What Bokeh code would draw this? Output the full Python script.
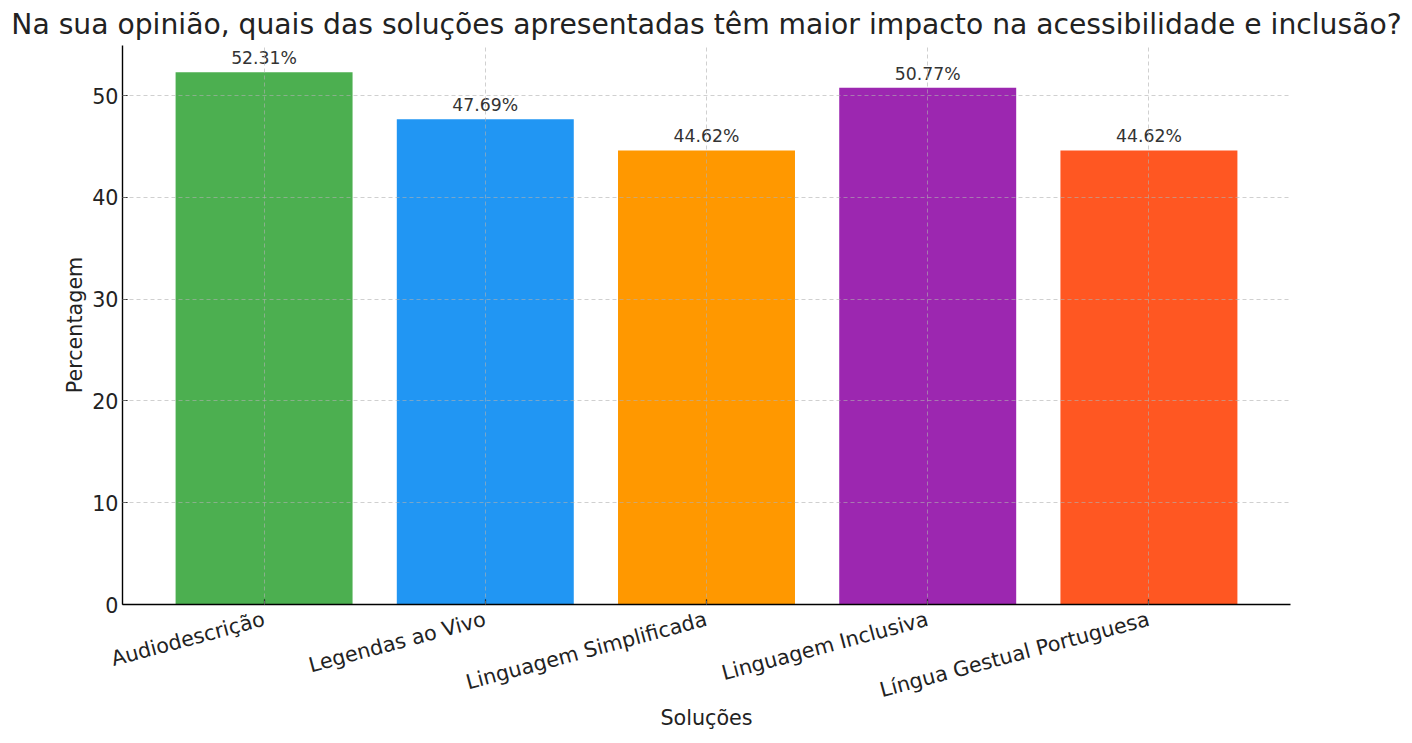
import math
from bokeh.plotting import figure
from bokeh.models import ColumnDataSource, Range1d, FixedTicker
from bokeh.embed import file_html
from bokeh.resources import INLINE
from bokeh.core.properties import value

# ---- data ----
categories = ["Audiodescrição", "Legendas ao Vivo", "Linguagem Simplificada",
              "Linguagem Inclusiva", "Língua Gestual Portuguesa"]
percentages = [52.31, 47.69, 44.62, 50.77, 44.62]
colors = ["#4CAF50", "#2196F3", "#FF9800", "#9C27B0", "#FF5722"]
y_ticks = [0, 10, 20, 30, 40, 50]
title_text = "Na sua opinião, quais das soluções apresentadas têm maior impacto na acessibilidade e inclusão?"
x_label = "Soluções"
y_label = "Percentagem"

x_pos = list(range(len(categories)))
value_labels = [f"{v:.2f}%" for v in percentages]
src = ColumnDataSource(dict(x=x_pos, top=percentages, color=colors, label=value_labels))

FONT = "DejaVu Sans"

p = figure(width=1410, height=741, output_backend="svg", toolbar_location=None,
           x_range=Range1d(-0.64, 4.64), y_range=Range1d(0, 54.93),
           min_border_left=122, min_border_right=120, min_border_top=0,
           min_border_bottom=137)

p.title.text = title_text
p.title.align = "center"
p.title.text_font = FONT
p.title.text_font_size = "28.2px"
p.title.text_font_style = "normal"
p.title.text_color = "#222222"

p.vbar(x="x", top="top", width=0.8, bottom=0, source=src, fill_color="color",
       line_color=None)

p.text(x="x", y="top", text="label", source=src, text_align="center",
       text_baseline="alphabetic", y_offset=-14, text_font=value(FONT),
       text_font_size="17.3px", text_color="#333333")

p.outline_line_color = None
p.background_fill_color = "white"
p.border_fill_color = "white"

# axes
p.xaxis.ticker = FixedTicker(ticks=x_pos)
p.xaxis.major_label_overrides = {i: c for i, c in zip(x_pos, categories)}
p.xaxis.major_label_orientation = math.radians(15)
p.yaxis.ticker = FixedTicker(ticks=y_ticks)
p.xaxis.axis_label = x_label
p.yaxis.axis_label = y_label

for ax in (p.xaxis[0], p.yaxis[0]):
    ax.axis_line_color = "black"
    ax.axis_line_width = 1.4
    ax.major_tick_line_color = "black"
    ax.major_tick_line_width = 1.2
    ax.major_tick_in = 5
    ax.major_tick_out = 0
    ax.minor_tick_line_color = None
    ax.major_label_text_font = FONT
    ax.major_label_text_font_size = "20.7px"
    ax.major_label_text_color = "#222222"
    ax.axis_label_text_font = FONT
    ax.axis_label_text_font_size = "20.7px"
    ax.axis_label_text_font_style = "normal"
    ax.axis_label_text_color = "#222222"

p.xaxis.major_label_standoff = 14
p.xaxis.axis_label_standoff = -11
p.yaxis.major_label_standoff = 4
p.yaxis.axis_label_standoff = 2

# grid over bars
for g in (p.xgrid[0], p.ygrid[0]):
    g.level = "overlay"
    g.grid_line_color = "#b0b0b0"
    g.grid_line_alpha = 0.6
    g.grid_line_width = 1
    g.grid_line_dash = "4 3"

open("out.html", "w").write(file_html(p, INLINE))
